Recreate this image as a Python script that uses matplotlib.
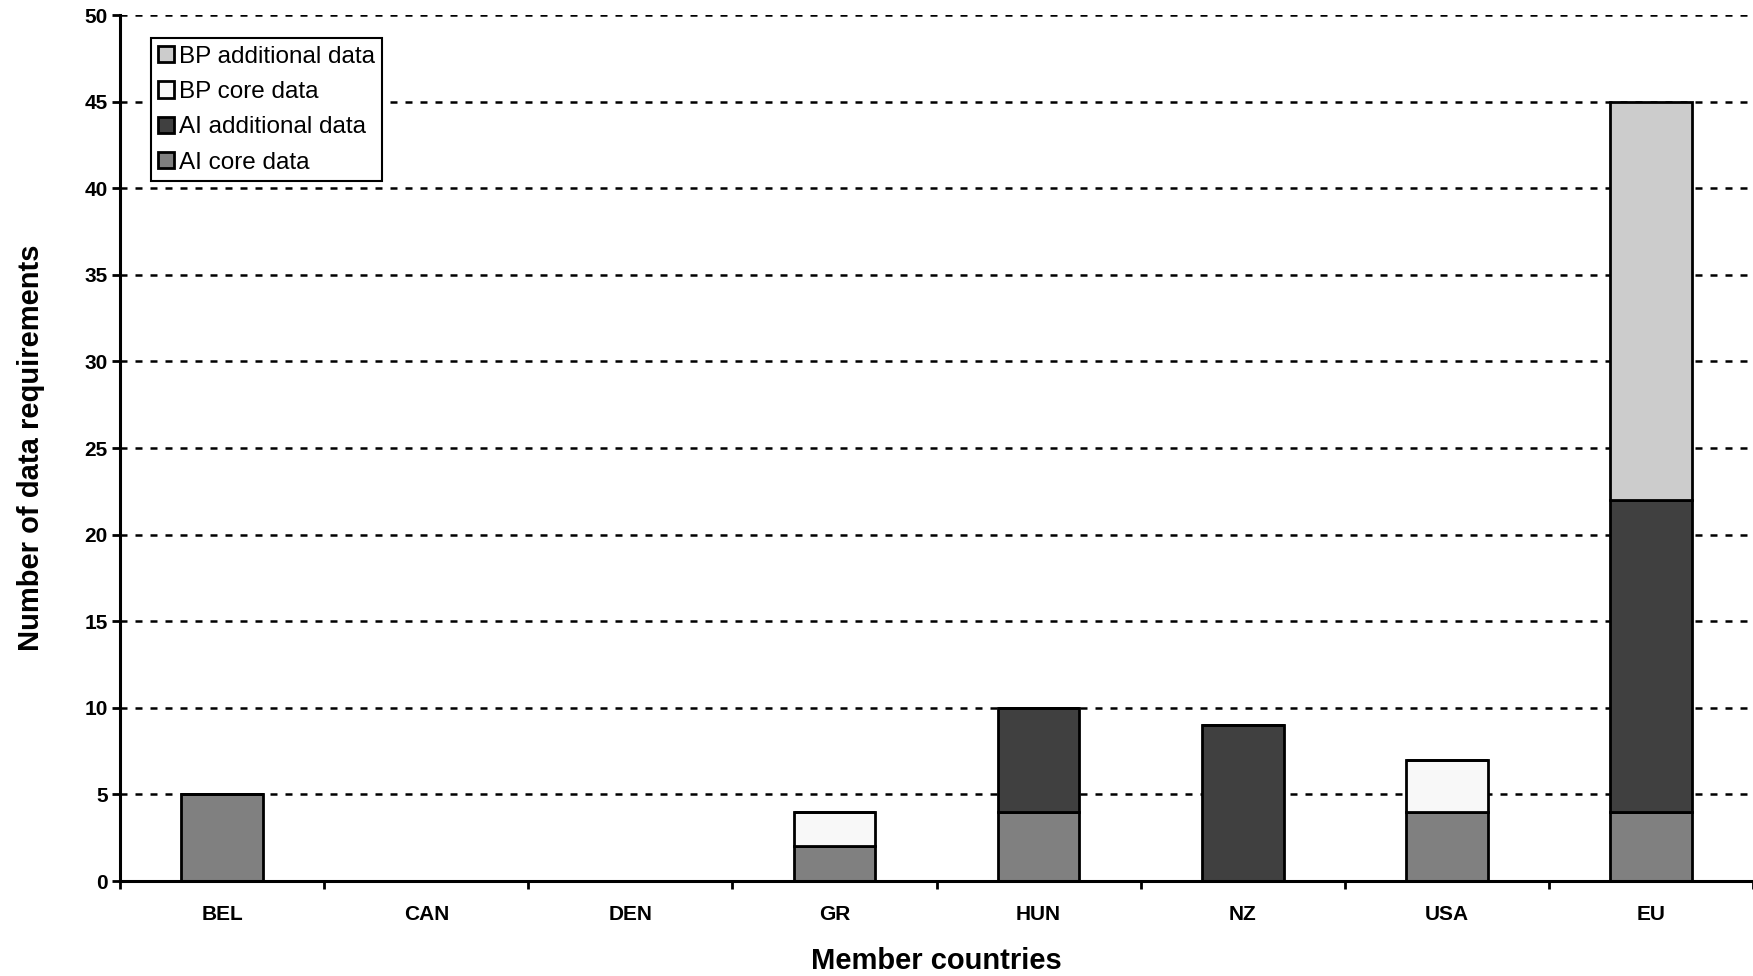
import matplotlib.pyplot as plt
import numpy as np

plt.rcParams['font.family'] = ['Liberation Sans', 'DejaVu Sans']

countries = ['BEL', 'CAN', 'DEN', 'GR', 'HUN', 'NZ', 'USA', 'EU']
ai_core = [5, 0, 0, 2, 4, 0, 4, 4]
ai_additional = [0, 0, 0, 0, 6, 9, 0, 18]
bp_core = [0, 0, 0, 2, 0, 0, 3, 0]
bp_additional = [0, 0, 0, 0, 0, 0, 0, 23]

series = [
    ('AI core data', ai_core, '#808080'),
    ('AI additional data', ai_additional, '#404040'),
    ('BP core data', bp_core, '#f8f8f8'),
    ('BP additional data', bp_additional, '#cccccc'),
]

fig = plt.figure(figsize=(17.53, 9.76), dpi=100)
ax = fig.add_axes([0.0685, 0.0973, 0.9315, 0.8873])

x = np.arange(len(countries))
bottom = np.zeros(len(countries))
for name, vals, color in series:
    vals = np.array(vals, dtype=float)
    ax.bar(x, vals, width=0.4, bottom=bottom, color=color,
           edgecolor='black', linewidth=2, label=name, zorder=3)
    bottom += vals

ax.set_xlim(-0.5, len(countries) - 0.5)
ax.set_ylim(0, 50)
ax.set_yticks(range(0, 51, 5))
for y in range(5, 51, 5):
    ax.axhline(y, color='black', linewidth=1.8,
               linestyle=(0, (2.8, 3.2)), zorder=1)

ax.set_xticks(x)
ax.set_xticklabels(countries)
ax.set_xticks(np.arange(-0.5, len(countries), 1), minor=True)
ax.tick_params(axis='x', which='major', length=0, pad=17, labelsize=15)
ax.tick_params(axis='x', which='minor', length=6, width=2, direction='out')
ax.tick_params(axis='y', length=6, width=2, direction='out', pad=3,
               labelsize=15)
for lbl in ax.get_xticklabels() + ax.get_yticklabels():
    lbl.set_fontweight('bold')

for side in ['top', 'right']:
    ax.spines[side].set_visible(False)
for side in ['left', 'bottom']:
    ax.spines[side].set_linewidth(2.2)
    ax.spines[side].set_zorder(4)

ax.set_xlabel('Member countries', fontsize=21, fontweight='bold', labelpad=17)
ax.set_ylabel('Number of data requirements', fontsize=21, fontweight='bold',
              labelpad=28)

handles, labels = ax.get_legend_handles_labels()
leg = ax.legend(handles[::-1], labels[::-1], loc='upper left',
                bbox_to_anchor=(0.019, 0.973), fontsize=17.5,
                frameon=True, fancybox=False, framealpha=1,
                edgecolor='black', handlelength=0.65, handleheight=0.65,
                handletextpad=0.2, labelspacing=0.55, borderpad=0.3,
                borderaxespad=0)
leg.get_frame().set_linewidth(1.5)
leg.set_zorder(5)

fig.savefig('out.png', dpi=100)
